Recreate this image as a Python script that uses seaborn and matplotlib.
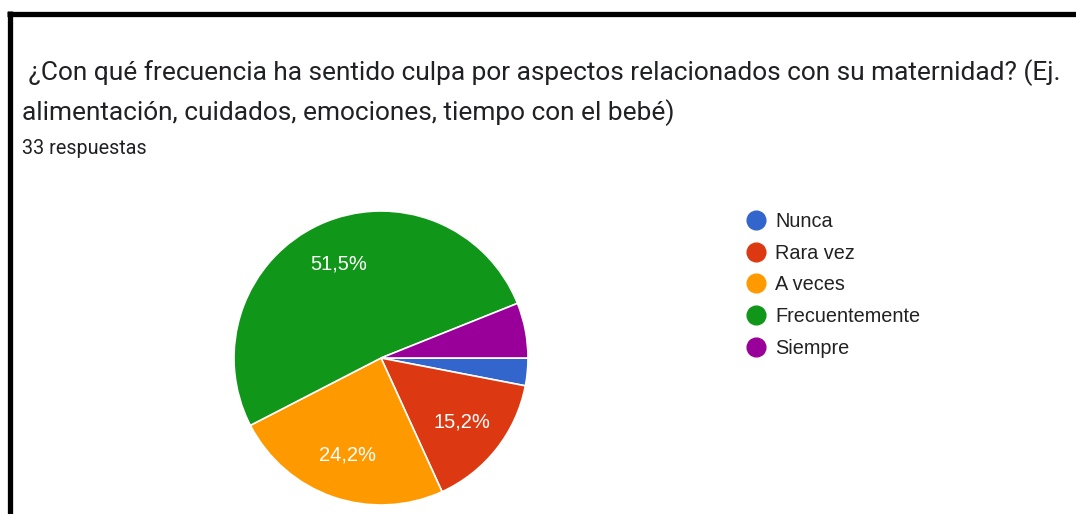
import matplotlib
matplotlib.use("Agg")
import matplotlib.pyplot as plt
import seaborn as sns
from matplotlib.lines import Line2D

categories = ["Nunca", "Rara vez", "A veces", "Frecuentemente", "Siempre"]
counts = [1, 5, 8, 17, 2]
colors = ["#3366CC", "#DC3912", "#FF9900", "#109618", "#990099"]
title_lines = [" ¿Con qué frecuencia ha sentido culpa por aspectos relacionados con su maternidad? (Ej.",
               "alimentación, cuidados, emociones, tiempo con el bebé)"]
subtitle = "33 respuestas"

sns.set_theme(style="white")
plt.rcParams['font.family'] = ['Roboto', 'DejaVu Sans']
chart_font = ['Liberation Sans', 'DejaVu Sans']

W, H = 1076, 514
fig = plt.figure(figsize=(W / 100, H / 100), dpi=100)
fig.patch.set_facecolor("white")

# pie axes: center (381, 358), radius 147 px
cx, cy, r = 381, 358, 147
ax = fig.add_axes([(cx - r) / W, (H - cy - r) / H, 2 * r / W, 2 * r / H])


def fmt(pct):
    return (f"{pct:.1f}".replace(".", ",") + "%") if pct > 10 else ""


wedges, texts, autotexts = ax.pie(
    counts, colors=colors, startangle=0, counterclock=False,
    autopct=fmt, pctdistance=0.7, radius=1,
    wedgeprops=dict(edgecolor="white", linewidth=1.2),
    textprops=dict(color="white", fontsize=14.5, family=chart_font),
)
ax.set_xlim(-1, 1)
ax.set_ylim(-1, 1)
ax.set_axis_off()

# title
fig.text(22 / W, 1 - 73 / H, title_lines[0], fontsize=18.9, color="#202124", va="center", ha="left")
fig.text(22 / W, 1 - 113 / H, title_lines[1], fontsize=18.9, color="#202124", va="center", ha="left")
fig.text(22 / W, 1 - 148 / H, subtitle, fontsize=14.2, color="#202124", va="center", ha="left")

# legend
handles = [Line2D([0], [0], marker="o", linestyle="", markersize=13.5,
                  markerfacecolor=c, markeredgecolor=c) for c in colors]
fig.legend(handles, categories, loc="upper left", bbox_to_anchor=(746 / W, 1 - 212 / H),
           frameon=False, prop=dict(family=chart_font, size=14.3), labelspacing=0.64,
           handletextpad=0.46, handlelength=1.0, borderaxespad=0, borderpad=0,
           labelcolor="#222222")

# black frame lines (top and left)
fig.add_artist(Line2D([7 / W, 1], [1 - 13.5 / H, 1 - 13.5 / H], color="black", linewidth=3.8,
                      transform=fig.transFigure, solid_capstyle="butt"))
fig.add_artist(Line2D([9.5 / W, 9.5 / W], [0, 1 - 11 / H], color="black", linewidth=3.8,
                      transform=fig.transFigure, solid_capstyle="butt"))

fig.savefig("out.png", dpi=100)
